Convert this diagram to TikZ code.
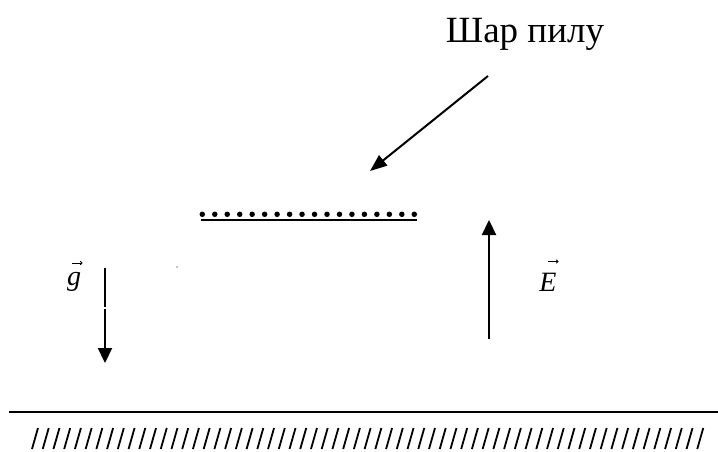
\documentclass[tikz,border=0pt]{standalone}
\usepackage{fontspec}
\setmainfont{Liberation Serif}
\usetikzlibrary{arrows.meta}

\tikzset{
  fieldarrow/.style={line width=2.2pt,-{Triangle[length=15pt,width=14pt]}},
  pointer/.style={line width=2pt,-{Triangle[length=17pt,width=13pt]}},
  dust/.style={circle,fill=black,inner sep=0pt,minimum size=5.5pt},
  veclabel/.style={anchor=base,inner sep=0pt,font=\fontsize{28}{32}\selectfont\itshape},
  vecaccent/.style={line width=0.8pt,-{To[length=2.5pt,width=4pt]}},
}

\begin{document}
\begin{tikzpicture}[x=1pt,y=-1pt]
\useasboundingbox (0,0) rectangle (718,452);
% caption and pointer
\node[anchor=base,inner sep=0pt,font=\fontsize{37}{42}\selectfont] (title) at (525,43) {Шар пилу};
\coordinate (ptrstart) at (488,76);
\coordinate (ptrend) at (370,171);
\draw[pointer] (ptrstart) -- (ptrend);
% dust layer
\foreach \i in {0,...,17} {
\node[dust] (d\i) at ({202.3+12.47*\i},214.3) {};
}
\draw[line width=2pt] (201,219.7) -- (416.7,219.7);
\fill (177,267) circle (0.7);
% gravity
\coordinate (gtop) at (105,268);
\coordinate (gcut) at (105,306.5);
\coordinate (gres) at (105,308.5);
\coordinate (gtip) at (105,363);
\draw[line width=2.2pt] (gtop) -- (gcut);
\draw[fieldarrow] (gres) -- (gtip);
\node[veclabel] (glabel) at (74,285) {g};
\draw[vecaccent] (72,263) -- (82.5,263);
% field
\coordinate (Ebottom) at (489,339);
\coordinate (Etip) at (489,220);
\draw[fieldarrow] (Ebottom) -- (Etip);
\node[veclabel] (Elabel) at (548,291) {E};
\draw[vecaccent] (548,261.5) -- (558.5,261.5);
% ground
\draw[line width=2.4pt] (9,412) -- (718,412);
\foreach \k in {0,...,62} {
\draw[line width=1.8pt] ({32+10.73*\k},449) -- ({38+10.73*\k},428);
}
\end{tikzpicture}
\end{document}
